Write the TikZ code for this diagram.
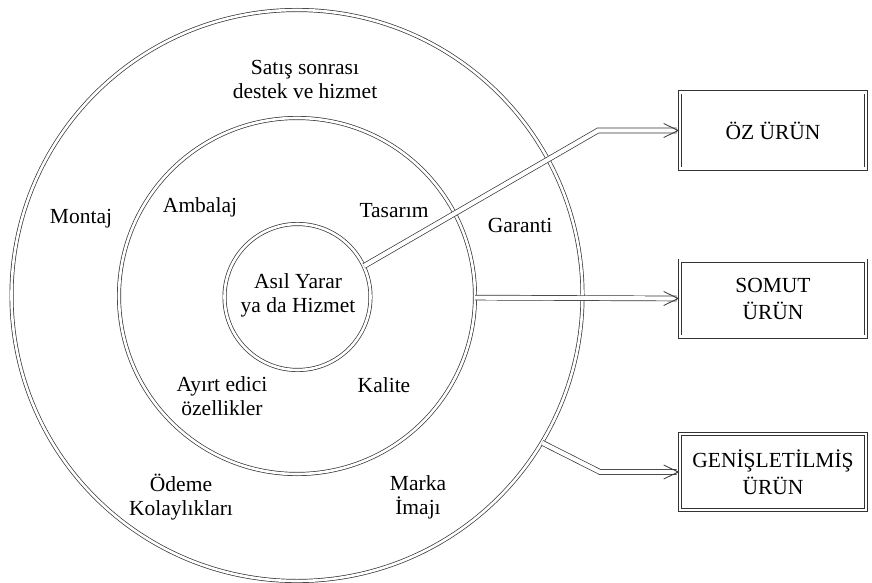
\documentclass[tikz,border=0pt]{standalone}
\usepackage{fontspec}
\setmainfont{Liberation Serif}
\begin{document}
\begin{tikzpicture}[x=1pt,y=-1pt,
  ring/.style={draw=black!80, line width=0.7pt, double=white, double distance=2.6pt},
  link/.style={draw=black!80, line width=0.7pt, double=white, double distance=4.2pt, line join=miter},
  barb/.style={draw=black!80, line width=0.8pt},
  txt/.style={font=\fontsize{21.5}{24}\selectfont, align=center, inner sep=0pt},
  layer/.style={ring, circle, inner sep=0pt},
  boxnode/.style={ring, rectangle, minimum width=186pt, minimum height=76pt, inner sep=0pt,
    font=\fontsize{21.5}{27}\selectfont, align=center}
]
\useasboundingbox (0,0) rectangle (872,583);

% three product levels
\node[layer, minimum size=571pt] (outer) at (297,295.5) {};
\node[layer, minimum size=356pt] (mid) at (297,296) {};
\node[layer, minimum size=146pt] (core) at (297.5,297) {};

% level boxes
\node[boxnode] (oz) at (773,130.5) {ÖZ ÜRÜN};
\node[boxnode] (som) at (773,298.5) {SOMUT\\ÜRÜN};
\node[boxnode] (gen) at (773,472) {GENİŞLETİLMİŞ\\ÜRÜN};

% start and bends of the connectors
\coordinate (k1) at (598,130.5);
\coordinate (s2) at (475,297.6);
\coordinate (k3) at (600,472);

% connectors
\draw[link, shorten >=3pt] (core.25) -- (k1) -- (oz.west);
\draw[link, shorten >=3pt] (s2) -- (som.west);
\draw[link, shorten >=3pt] (outer.-31) -- (k3) -- (gen.west);

% open arrow tips
\foreach \bx in {oz,som,gen}{
  \draw[barb] ([xshift=-16pt,yshift=-7pt]\bx.west) -- ([xshift=-1.5pt]\bx.west) -- ([xshift=-16pt,yshift=7pt]\bx.west);
}

% labels
\node[txt] (t1) at (305,79) {Satış sonrası\\destek ve hizmet};
\node[txt] (t2) at (81,219) {Montaj};
\node[txt] (t3) at (200,207) {Ambalaj};
\node[txt] (t4) at (394,211) {Tasarım};
\node[txt] (t5) at (520,225) {Garanti};
\node[txt] (t6) at (298,295) {Asıl Yarar\\ya da Hizmet};
\node[txt] (t7) at (222,396) {Ayırt edici\\özellikler};
\node[txt] (t8) at (384,385) {Kalite};
\node[txt] (t9) at (181,497) {Ödeme\\Kolaylıkları};
\node[txt] (t10) at (418,497) {Marka\\İmajı};
\end{tikzpicture}
\end{document}
